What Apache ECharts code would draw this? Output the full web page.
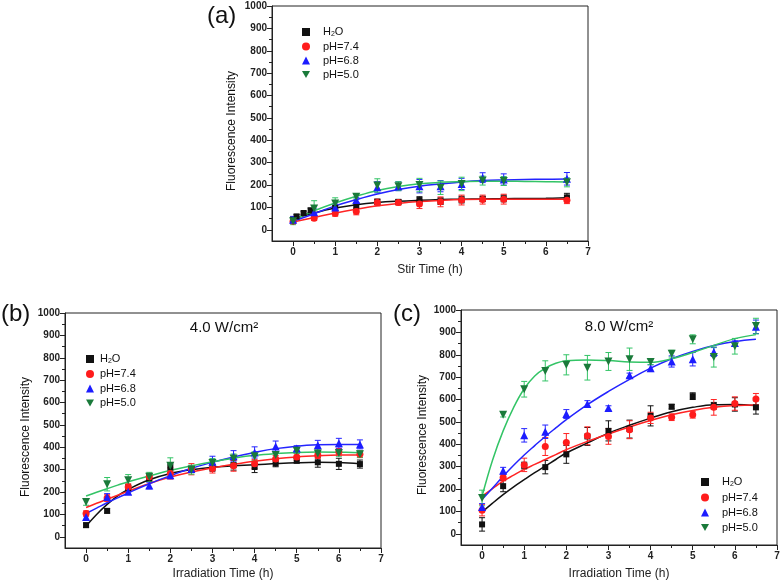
<!DOCTYPE html>
<html><head><meta charset="utf-8">
<script src="https://cdn.jsdelivr.net/npm/echarts@6/dist/echarts.min.js"></script>
<style>html,body{margin:0;padding:0;background:#fff}#c{width:783px;height:587px}</style>
</head><body><div id="c"></div>
<script>
// ---------- data ----------
const seriesNames = ['H2O', 'pH=7.4', 'pH=6.8', 'pH=5.0'];
const xTickLabels = [0, 1, 2, 3, 4, 5, 6, 7];
const xMinorTicks = [0.5, 1.5, 2.5, 3.5, 4.5, 5.5, 6.5];
const yTickLabels = [0, 100, 200, 300, 400, 500, 600, 700, 800, 900, 1000];
const yMinorTicks = [50, 150, 250, 350, 450, 550, 650, 750, 850, 950];

// panel (a) stir time
const a_H2O_t = [0, 0.083, 0.25, 0.417, 1, 1.5, 2, 2.5, 3, 3.5, 4, 4.5, 5, 6.5];
const a_H2O_v = [45, 60, 75, 87, 98, 108, 125, 125, 133, 128, 135, 138, 140, 145];
const a_H2O_e = [10, 8, 8, 10, 12, 12, 12, 10, 15, 15, 15, 12, 15, 18];
const a_t = [0, 0.5, 1, 1.5, 2, 2.5, 3, 3.5, 4, 4.5, 5, 6.5];
const a_pH74_v = [38, 52, 73, 82, 122, 122, 115, 125, 133, 135, 137, 132];
const a_pH74_e = [10, 10, 12, 15, 15, 12, 20, 22, 22, 20, 22, 15];
const a_pH68_v = [45, 78, 100, 133, 190, 195, 195, 195, 205, 233, 225, 228];
const a_pH68_e = [15, 15, 15, 12, 25, 20, 30, 25, 25, 22, 25, 28];
const a_pH50_v = [38, 95, 118, 148, 198, 195, 200, 188, 205, 220, 218, 212];
const a_pH50_e = [15, 35, 25, 10, 30, 20, 30, 30, 30, 20, 20, 20];
const a_fit_t = [0, 0.5, 1, 1.5, 2, 2.5, 3, 3.5, 4, 4.5, 5, 5.5, 6, 6.5];
const a_fit_H2O = [48, 75, 97, 112, 122, 128, 132, 135, 137, 138, 139, 140, 141, 143];
const a_fit_pH74 = [35, 55, 75, 92, 107, 118, 126, 131, 135, 137, 137, 137, 136, 136];
const a_fit_pH68 = [38, 72, 107, 135, 160, 180, 195, 205, 214, 220, 223, 225, 226, 227];
const a_fit_pH50 = [43, 85, 120, 150, 176, 194, 206, 212, 216, 217, 217, 216, 215, 214];

// panel (b) 4.0 W/cm2
const b_t = [0, 0.5, 1, 1.5, 2, 2.5, 3, 3.5, 4, 4.5, 5, 5.5, 6, 6.5];
const b_H2O_v = [52, 116, 218, 262, 310, 302, 308, 320, 312, 328, 340, 333, 326, 325];
const b_H2O_e = [10, 10, 15, 15, 15, 15, 15, 22, 25, 15, 10, 22, 25, 18];
const b_pH74_v = [104, 173, 222, 268, 283, 302, 305, 318, 326, 348, 357, 365, 380, 369];
const b_pH74_e = [12, 15, 15, 15, 25, 25, 20, 25, 20, 15, 15, 15, 15, 15];
const b_pH68_v = [89, 178, 201, 229, 275, 303, 335, 360, 377, 403, 395, 409, 418, 413];
const b_pH68_e = [15, 15, 12, 15, 15, 12, 25, 25, 25, 25, 12, 22, 22, 20];
const b_pH50_v = [156, 235, 253, 268, 318, 300, 330, 350, 360, 366, 384, 372, 375, 369];
const b_pH50_e = [15, 30, 25, 20, 35, 20, 20, 20, 20, 15, 12, 15, 15, 15];
const b_fit_t = [0, 0.25, 0.5, 0.75, 1, 1.5, 2, 2.5, 3, 3.5, 4, 4.5, 5, 5.5, 6, 6.5];
const b_fit_H2O = [48, 100, 145, 183, 212, 255, 283, 300, 311, 317, 322, 327, 331, 333, 332, 326];
const b_fit_pH74 = [131, 150, 168, 186, 204, 238, 267, 290, 308, 324, 338, 349, 357, 362, 365, 365];
const b_fit_pH68 = [104, 128, 152, 174, 196, 237, 273, 306, 333, 357, 377, 394, 405, 411, 413, 413];
const b_fit_pH50 = [182, 199, 215, 231, 246, 272, 297, 317, 335, 351, 364, 372, 377, 379, 378, 376];

// panel (c) 8.0 W/cm2
const c_t = [0, 0.5, 1, 1.5, 2, 2.5, 3, 3.5, 4, 4.5, 5, 5.5, 6, 6.5];
const c_H2O_v = [42, 213, 305, 298, 355, 435, 460, 468, 527, 568, 615, 572, 578, 565];
const c_H2O_e = [30, 25, 15, 30, 40, 40, 45, 40, 45, 10, 15, 15, 30, 30];
const c_pH74_v = [105, 252, 308, 390, 408, 438, 435, 465, 518, 521, 532, 565, 582, 602];
const c_pH74_e = [25, 15, 30, 40, 40, 40, 35, 40, 25, 15, 15, 35, 30, 25];
const c_pH68_v = [120, 282, 440, 456, 535, 580, 562, 708, 740, 770, 780, 812, 852, 925];
const c_pH68_e = [15, 15, 30, 30, 20, 15, 10, 10, 15, 25, 30, 20, 10, 30];
const c_pH50_v = [160, 532, 646, 728, 755, 742, 770, 780, 768, 805, 869, 790, 838, 928];
const c_pH50_e = [35, 10, 35, 45, 45, 55, 40, 50, 12, 15, 20, 45, 35, 35];
const c_fit_t = [0, 0.25, 0.5, 0.75, 1, 1.25, 1.5, 1.75, 2, 2.5, 3, 3.5, 4, 4.5, 5, 5.5, 6, 6.5];
const c_fit_H2O = [97, 137, 175, 210, 242, 273, 302, 332, 361, 406, 450, 485, 517, 545, 565, 577, 578, 573];
const c_fit_pH74 = [168, 202, 235, 262, 288, 310, 332, 354, 376, 413, 446, 477, 506, 532, 551, 565, 573, 576];
const c_fit_pH68 = [153, 205, 257, 306, 352, 394, 435, 473, 510, 577, 636, 690, 740, 782, 815, 841, 859, 869];
const c_fit_pH50 = [168, 330, 460, 565, 648, 705, 740, 762, 773, 777, 774, 768, 766, 782, 810, 842, 872, 890];

// ---------- styling ----------
const FONT = '"Liberation Sans", Arial, sans-serif';
const AX = '#222';
const markColors = ['#111111', '#ff1c1c', '#1c1cff', '#1a7a3a'];
const lineColors = ['#111111', '#ff2424', '#2424ff', '#33c466'];
const symbols = ['rect', 'circle', 'triangle', 'triangle'];
const symRot = [0, 0, 0, 180];
const symSize = [6, 7, 8, 8];
const downTri = 'path://M0,0L10,0L5,8.7Z';

const panels = [
  {grid: {left: 272, top: 6, width: 316, height: 235}, xname: 'Stir Time (h)', nameGap: 23,
   pts: [[a_H2O_t, a_H2O_v, a_H2O_e], [a_t, a_pH74_v, a_pH74_e], [a_t, a_pH68_v, a_pH68_e], [a_t, a_pH50_v, a_pH50_e]],
   fits: [[a_fit_t, a_fit_H2O], [a_fit_t, a_fit_pH74], [a_fit_t, a_fit_pH68], [a_fit_t, a_fit_pH50]]},
  {grid: {left: 65, top: 313, width: 316, height: 235}, xname: 'Irradiation Time (h)', nameGap: 20,
   pts: [[b_t, b_H2O_v, b_H2O_e], [b_t, b_pH74_v, b_pH74_e], [b_t, b_pH68_v, b_pH68_e], [b_t, b_pH50_v, b_pH50_e]],
   fits: [[b_fit_t, b_fit_H2O], [b_fit_t, b_fit_pH74], [b_fit_t, b_fit_pH68], [b_fit_t, b_fit_pH50]]},
  {grid: {left: 461, top: 310, width: 316, height: 235}, xname: 'Irradiation Time (h)', nameGap: 23,
   pts: [[c_t, c_H2O_v, c_H2O_e], [c_t, c_pH74_v, c_pH74_e], [c_t, c_pH68_v, c_pH68_e], [c_t, c_pH50_v, c_pH50_e]],
   fits: [[c_fit_t, c_fit_H2O], [c_fit_t, c_fit_pH74], [c_fit_t, c_fit_pH68], [c_fit_t, c_fit_pH50]]}
];

const tickLabelStyle = {fontSize: 10, fontWeight: 'bold', color: AX, fontFamily: FONT, formatter: v => String(v)};
const grids = [], xAxes = [], yAxes = [], series = [];
panels.forEach((p, i) => {
  grids.push(Object.assign({show: true, borderColor: AX, borderWidth: 1, backgroundColor: 'transparent'}, p.grid));
  xAxes.push({type: 'value', gridIndex: i, min: -0.5, max: 7, position: 'bottom',
    axisLine: {show: true, onZero: false, lineStyle: {color: AX, width: 1}},
    axisTick: {show: true, customValues: xTickLabels, length: 5, lineStyle: {color: AX}},
    axisLabel: Object.assign({customValues: xTickLabels, margin: 6}, tickLabelStyle),
    splitLine: {show: false},
    name: p.xname, nameLocation: 'middle', nameGap: p.nameGap,
    nameTextStyle: {fontSize: 12, color: AX, fontFamily: FONT}});
  xAxes.push({type: 'value', gridIndex: i, min: -0.5, max: 7, position: 'bottom', offset: 0,
    axisLine: {show: false, onZero: false},
    axisTick: {show: true, customValues: xMinorTicks, length: 3, lineStyle: {color: AX}},
    axisLabel: {show: false}, splitLine: {show: false}});
  yAxes.push({type: 'value', gridIndex: i, min: -50, max: 1000, position: 'left',
    axisLine: {show: true, onZero: false, lineStyle: {color: AX, width: 1}},
    axisTick: {show: true, customValues: yTickLabels, length: 5, lineStyle: {color: AX}},
    axisLabel: Object.assign({customValues: yTickLabels, margin: 5}, tickLabelStyle),
    splitLine: {show: false}});
  yAxes.push({type: 'value', gridIndex: i, min: -50, max: 1000, position: 'left', offset: 0,
    axisLine: {show: false, onZero: false},
    axisTick: {show: true, customValues: yMinorTicks, length: 3, lineStyle: {color: AX}},
    axisLabel: {show: false}, splitLine: {show: false}});

  const xi = 2 * i, yi = 2 * i;
  p.pts.forEach((d, k) => {
    const [ts, vs, es] = d;
    const col = lineColors[k];
    series.push({type: 'custom', xAxisIndex: xi, yAxisIndex: yi, silent: true, z: 2,
      data: ts.map((t, j) => [t, vs[j], es[j]]),
      encode: {x: 0, y: 1},
      renderItem: (params, api) => {
        const x = api.value(0), y = api.value(1), e = api.value(2);
        const top = api.coord([x, y + e]), bot = api.coord([x, y - e]);
        const w = 3, st = {stroke: col, lineWidth: 1};
        return {type: 'group', children: [
          {type: 'line', shape: {x1: top[0], y1: top[1], x2: bot[0], y2: bot[1]}, style: st},
          {type: 'line', shape: {x1: top[0] - w, y1: top[1], x2: top[0] + w, y2: top[1]}, style: st},
          {type: 'line', shape: {x1: bot[0] - w, y1: bot[1], x2: bot[0] + w, y2: bot[1]}, style: st}
        ]};
      }});
    series.push({type: 'scatter', name: seriesNames[k], xAxisIndex: xi, yAxisIndex: yi, z: 4,
      data: ts.map((t, j) => [t, vs[j]]),
      symbol: symbols[k], symbolRotate: symRot[k], symbolSize: symSize[k],
      itemStyle: {color: markColors[k], opacity: 1}});
  });
  p.fits.forEach((d, k) => {
    const [ts, vs] = d;
    series.push({type: 'line', name: 'fit ' + seriesNames[k], xAxisIndex: xi, yAxisIndex: yi, z: 3,
      data: ts.map((t, j) => [t, vs[j]]), smooth: 0.4, showSymbol: false, symbol: 'none',
      lineStyle: {color: lineColors[k], width: 1.5}});
  });
});

const legendData = [
  {name: 'H2O', icon: 'rect'}, {name: 'pH=7.4', icon: 'circle'},
  {name: 'pH=6.8', icon: 'triangle'}, {name: 'pH=5.0', icon: downTri}
];
function mkLegend(left, top, gap, padL) {
  return {data: legendData, left: left, top: top, orient: 'vertical', padding: 0,
    itemWidth: 8, itemHeight: 8, itemGap: gap, selectedMode: false,
    formatter: n => n === 'H2O' ? '{n|H}{s|2}{n|O}' : '{n|' + n + '}',
    textStyle: {fontFamily: FONT, color: '#111', padding: [0, 0, 0, padL],
      rich: {n: {fontSize: 11, fontFamily: FONT, color: '#111', lineHeight: 12},
             s: {fontSize: 7, fontFamily: FONT, color: '#111', lineHeight: 12, padding: [5, 0, 0, 0]}}}};
}

const titleFont = {fontFamily: FONT, fill: '#111'};
const option = {
  animation: false,
  backgroundColor: '#fff',
  grid: grids, xAxis: xAxes, yAxis: yAxes, series: series,
  legend: [mkLegend(302, 26, 3, 8), mkLegend(86, 353, 3.5, 1), mkLegend(701, 476, 4, 8)],
  graphic: [
    {type: 'text', x: 207, y: 16, style: Object.assign({text: '(a)', fontSize: 24, verticalAlign: 'middle'}, titleFont)},
    {type: 'text', x: 1, y: 314, style: Object.assign({text: '(b)', fontSize: 24, verticalAlign: 'middle'}, titleFont)},
    {type: 'text', x: 393, y: 314, style: Object.assign({text: '(c)', fontSize: 24, verticalAlign: 'middle'}, titleFont)},
    {type: 'text', x: 224, y: 328, style: Object.assign({text: '4.0 W/cm²', fontSize: 15, align: 'center', verticalAlign: 'middle'}, titleFont)},
    {type: 'text', x: 619, y: 327, style: Object.assign({text: '8.0 W/cm²', fontSize: 15, align: 'center', verticalAlign: 'middle'}, titleFont)},
    {type: 'text', x: 232, y: 131, rotation: Math.PI / 2, style: Object.assign({text: 'Fluorescence Intensity', fontSize: 12, align: 'center', verticalAlign: 'middle'}, titleFont)},
    {type: 'text', x: 26, y: 437, rotation: Math.PI / 2, style: Object.assign({text: 'Fluorescence Intensity', fontSize: 12, align: 'center', verticalAlign: 'middle'}, titleFont)},
    {type: 'text', x: 423, y: 435, rotation: Math.PI / 2, style: Object.assign({text: 'Fluorescence Intensity', fontSize: 12, align: 'center', verticalAlign: 'middle'}, titleFont)}
  ]
};
const chart = echarts.init(document.getElementById('c'), null, {renderer: 'canvas'});
chart.setOption(option);
</script>
</body></html>
